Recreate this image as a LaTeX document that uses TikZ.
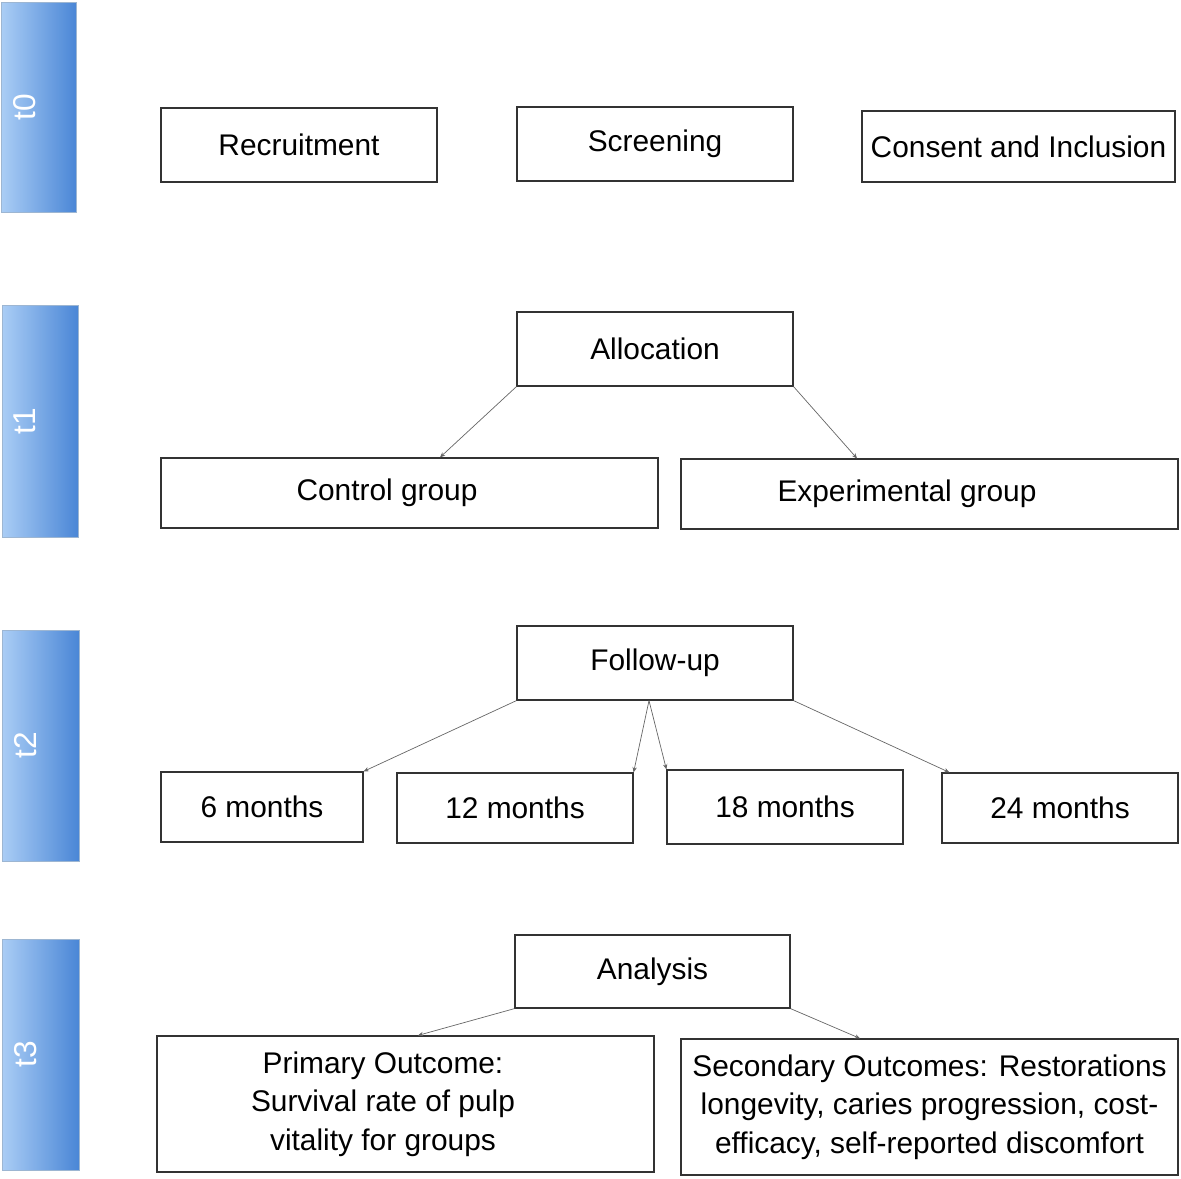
\documentclass[tikz,border=0pt]{standalone}
\usepackage{fontspec}
\setmainfont{Liberation Sans}
\usetikzlibrary{arrows.meta}
\definecolor{barlight}{HTML}{AACDF5}
\definecolor{bardark}{HTML}{4A86D6}

\begin{document}
\begin{tikzpicture}[x=0.02cm, y=-0.02cm,
  box/.style={draw=black!80, line width=0.7pt, inner sep=2pt, align=center, font=\fontsize{17}{22}\selectfont},
  phase/.style={left color=barlight, right color=bardark, draw=barlight!70!gray, line width=0.4pt, minimum width=1.5cm, minimum height=4.25cm},
  tag/.style={rotate=90, text=white, font=\fontsize{18}{20}\selectfont},
  link/.style={draw=black!60, line width=0.4pt, -{Stealth[length=3pt, width=2.5pt]}}]
  \useasboundingbox (0,0) rectangle (1181,1178);
  % phase bars
  \node[phase, minimum height=4.2cm] (p0) at (39,107) {};
  \node[tag] at ([xshift=-0.28cm]p0) {t0};
  \node[phase, minimum width=1.52cm, minimum height=4.64cm] (p1) at (40,421) {};
  \node[tag] at ([xshift=-0.3cm]p1) {t1};
  \node[phase, minimum width=1.54cm, minimum height=4.62cm] (p2) at (40.5,745.5) {};
  \node[tag] at ([xshift=-0.3cm]p2) {t2};
  \node[phase, minimum width=1.54cm, minimum height=4.62cm] (p3) at (40.5,1054.5) {};
  \node[tag] at ([xshift=-0.3cm]p3) {t3};
  % t0
  \node[box, minimum width=5.52cm, minimum height=1.48cm] (rec) at (299,145) {Recruitment};
  \node[box, minimum width=5.52cm, minimum height=1.48cm] (scr) at (655,144) {Screening};
  \node[box, minimum width=6.26cm, minimum height=1.42cm] (cons) at (1018.5,146.5) {Consent and Inclusion};
  % t1
  \node[box, minimum width=5.52cm, minimum height=1.48cm] (alloc) at (655,349) {Allocation};
  \node[box, minimum width=9.94cm, minimum height=1.4cm] (ctrl) at (409.5,493) {Control group\hspace{0.9cm}};
  \node[box, minimum width=9.94cm, minimum height=1.4cm] (exp) at (929.5,494) {Experimental group\hspace{0.9cm}};
  \draw[link] (alloc.south west) -- ([xshift=0.61cm]ctrl.north);
  \draw[link] (alloc.south east) -- ([xshift=-1.45cm]exp.north);
  % t2
  \node[box, minimum width=5.52cm, minimum height=1.48cm] (fup) at (655,663) {Follow-up};
  \node[box, minimum width=4.04cm, minimum height=1.4cm] (m6) at (262,807) {6 months};
  \node[box, minimum width=4.72cm, minimum height=1.4cm] (m12) at (515,808) {12 months};
  \node[box, minimum width=4.72cm, minimum height=1.48cm] (m18) at (785,807) {18 months};
  \node[box, minimum width=4.72cm, minimum height=1.4cm] (m24) at (1060,808) {24 months};
  \draw[link] (fup.south west) -- (m6.north east);
  \draw[link] ([xshift=-0.12cm]fup.south) -- (m12.north east);
  \draw[link] ([xshift=-0.12cm]fup.south) -- (m18.north west);
  \draw[link] (fup.south east) -- ([xshift=0.16cm]m24.north west);
  % t3
  \node[box, minimum width=5.5cm, minimum height=1.46cm] (ana) at (652.5,971.5) {Analysis};
  \node[box, minimum width=9.94cm, minimum height=2.72cm] (prim) at (405.5,1104)
    {\begin{tabular}{@{}c@{}}Primary Outcome:\\ Survival rate of pulp\\ vitality for groups\end{tabular}\hspace{0.9cm}};
  \node[box, minimum width=9.94cm, minimum height=2.72cm] (sec) at (929.5,1107)
    {Secondary Outcomes: Restorations\\ longevity, caries progression, cost-\\ efficacy, self-reported discomfort};
  \draw[link] (ana.south west) -- ([xshift=0.25cm]prim.north);
  \draw[link] (ana.south east) -- ([xshift=-1.39cm]sec.north);
\end{tikzpicture}
\end{document}
